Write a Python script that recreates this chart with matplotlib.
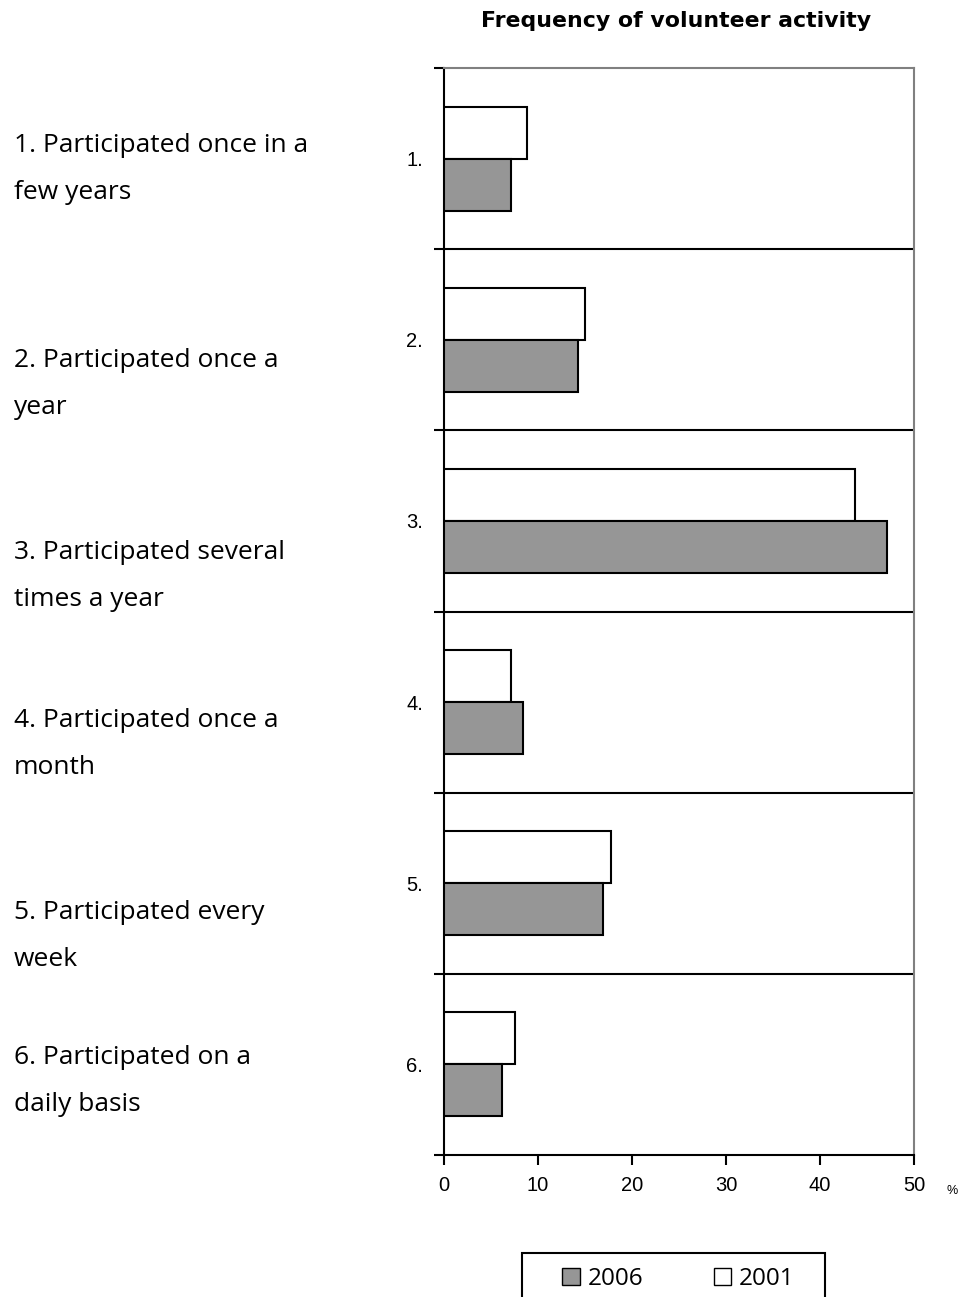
import matplotlib
matplotlib.use("Agg")
import matplotlib.pyplot as plt
import matplotlib.patches as mpatches
import numpy as np

categories = ["1.", "2.", "3.", "4.", "5.", "6."]
descriptions = [
    "1. Participated once in a\nfew years",
    "2. Participated once a\nyear",
    "3. Participated several\ntimes a year",
    "4. Participated once a\nmonth",
    "5. Participated every\nweek",
    "6. Participated on a\ndaily basis",
]
values_2001 = [8.8, 15.0, 43.7, 7.1, 17.8, 7.5]
values_2006 = [7.1, 14.3, 47.1, 8.4, 16.9, 6.2]
x_ticks = [0, 10, 20, 30, 40, 50]
series_names = ["2006", "2001"]

W, H = 963, 1297
fig = plt.figure(figsize=(W / 100, H / 100), dpi=100)
ax = fig.add_axes([444 / W, 1 - 1155 / H, (914 - 444) / W, (1155 - 68) / H])

y = np.arange(len(categories))
h = 0.287
ax.barh(y - h / 2, values_2001, height=h, color="white", edgecolor="black", linewidth=1.5, zorder=3)
ax.barh(y + h / 2, values_2006, height=h, color="#969696", edgecolor="black", linewidth=1.5, zorder=3)

ax.set_xlim(0, 50)
ax.set_ylim(len(categories) - 0.5, -0.5)
ax.set_xticks(x_ticks)
ax.set_xticklabels([str(t) for t in x_ticks], fontsize=14.5, family="Liberation Sans")
ax.set_yticks(y)
ax.set_yticklabels(categories, fontsize=14.5, family="Liberation Sans")
ax.tick_params(axis="y", which="major", length=0, pad=15)
ax.set_yticks(np.arange(-0.5, len(categories), 1.0), minor=True)
ax.tick_params(axis="y", which="minor", length=7, width=1.5, direction="out")
ax.tick_params(axis="x", which="major", length=7, width=1.5, direction="out", pad=8)

for b in np.arange(0.5, len(categories) - 0.5, 1.0):
    ax.axhline(b, color="black", linewidth=1.5, zorder=2)

for s in ["left", "bottom"]:
    ax.spines[s].set_color("black")
    ax.spines[s].set_linewidth(1.5)
for s in ["top", "right"]:
    ax.spines[s].set_color("#808080")
    ax.spines[s].set_linewidth(1.5)

fig.text(676 / W, 1 - 21 / H, "Frequency of volunteer activity", ha="center", va="center",
         fontsize=15.8, fontweight="bold", family="DejaVu Sans")

label_centers = [169, 384, 576, 744, 936, 1081]
for txt, yc in zip(descriptions, label_centers):
    fig.text(14 / W, 1 - yc / H, txt, ha="left", va="center", fontsize=19,
             family="Open Sans", linespacing=2.12)

fig.text(952 / W, 1 - 1191 / H, "%", ha="center", va="center", fontsize=9, family="Liberation Sans")

# legend frame (extends past the bottom edge as in the reference)
fig.patches.append(mpatches.Rectangle((522 / W, 1 - 1310 / H), 303 / W, 57 / H,
                                      transform=fig.transFigure, fill=False,
                                      edgecolor="black", linewidth=1.5))

handles = [mpatches.Patch(facecolor="#969696", edgecolor="black", linewidth=1.0),
           mpatches.Patch(facecolor="white", edgecolor="black", linewidth=1.0)]
leg = fig.legend(handles, series_names, loc="upper left",
                 bbox_to_anchor=(562 / W, 1 - 1267 / H),
                 ncol=2, frameon=False,
                 prop={"family": "Open Sans", "size": 17.5}, handlelength=0.72, handleheight=0.72,
                 handletextpad=0.33, columnspacing=2.9, borderpad=0, borderaxespad=0)

fig.savefig("out.png", dpi=100)
